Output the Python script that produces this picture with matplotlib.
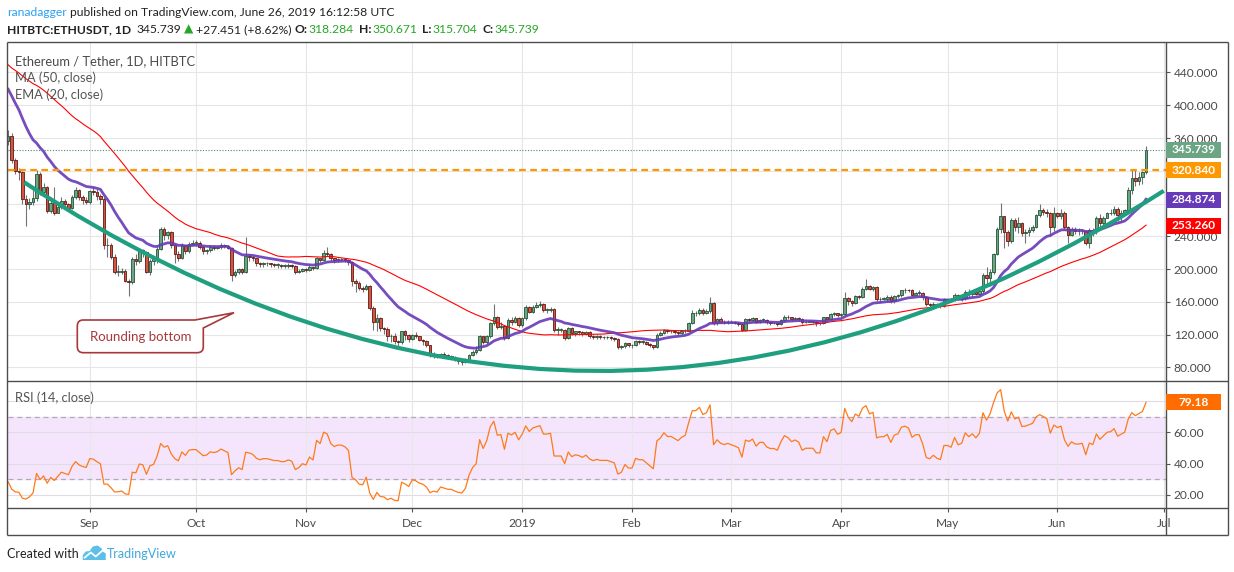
import numpy as np
import pandas as pd
import matplotlib
matplotlib.use('Agg')
import matplotlib.pyplot as plt
from matplotlib.path import Path
from matplotlib.patches import PathPatch, Rectangle, Polygon

plt.rcParams['font.family'] = ['Lato', 'DejaVu Sans']

# daily closes before the first visible candle (2018-06-01 .. 2018-08-08), only used to warm up MA/EMA/RSI
pre_close = [580, 591, 619, 592, 608, 607, 605, 601, 597, 526, 532, 497, 476, 519, 488, 498, 500, 518, 537, 537,
             525, 464, 474, 456, 457, 431, 441, 420, 435, 455,
             453, 475, 464, 467, 467, 474, 492, 489, 473, 433, 448, 431, 433, 436, 449, 478, 500, 479, 470, 448,
             461, 457, 460, 479, 471, 464, 470, 467, 466, 457, 433,
             420, 408, 415, 408, 408, 405, 377, 356]

# visible candles, 2018-08-09 .. 2019-06-26 (open = previous close)
aug_c = [363, 333, 320, 318, 285, 279, 282, 287, 316, 294, 300, 271, 281, 269, 276, 283, 279, 275, 288, 296, 288, 284, 282]
aug_h = [370, 366, 336, 324, 320, 290, 287, 296, 321, 318, 305, 301, 285, 300, 280, 288, 286, 281, 290, 300, 298, 290, 288]
aug_l = [352, 330, 316, 309, 280, 253, 273, 278, 283, 290, 289, 268, 268, 266, 268, 273, 275, 272, 274, 285, 284, 280, 280]

sep_c = [295, 294, 289, 285, 229, 229, 215, 197, 197, 198, 186, 184, 212, 210, 223, 221, 197, 210, 212, 225,
         249, 242, 245, 229, 219, 214, 229, 222, 231, 232]
sep_h = [297, 300, 298, 292, 288, 238, 232, 218, 205, 202, 200, 188, 215, 218, 225, 225, 222, 212, 215, 227,
         252, 252, 247, 246, 230, 222, 232, 230, 233, 236]
sep_l = [280, 290, 284, 280, 225, 215, 212, 194, 192, 194, 184, 167, 182, 205, 208, 215, 195, 193, 205, 208,
         223, 236, 237, 226, 207, 210, 212, 218, 220, 229]

oct_c = [232, 227, 222, 223, 227, 226, 227, 230, 228, 226, 193, 197, 200, 197, 216, 215, 213, 208, 206, 207,
         207, 206, 205, 205, 204, 204, 205, 204, 197, 198, 200]
oct_h = [235, 234, 229, 225, 229, 229, 228, 232, 231, 229, 227, 199, 201, 201, 239, 219, 216, 214, 209, 209,
         209, 208, 207, 207, 206, 206, 207, 206, 205, 200, 202]
oct_l = [228, 224, 219, 219, 221, 223, 224, 225, 226, 224, 186, 191, 194, 194, 195, 210, 210, 204, 203, 203,
         204, 203, 203, 202, 201, 202, 202, 202, 194, 195, 196]

nov_c = [199, 203, 201, 213, 211, 220, 219, 213, 211, 212, 212, 211, 209, 186, 183, 177, 176, 180, 153, 135,
         140, 128, 127, 118, 119, 112, 111, 124, 120, 115]
nov_h = [202, 205, 203, 215, 214, 223, 227, 220, 214, 214, 214, 213, 212, 210, 188, 186, 180, 182, 181, 155,
         145, 142, 130, 129, 121, 122, 114, 125, 126, 121]
nov_l = [197, 198, 199, 200, 209, 210, 216, 210, 208, 209, 210, 209, 205, 180, 172, 175, 172, 174, 150, 126,
         124, 125, 121, 112, 111, 109, 103, 109, 114, 111]

dec_c = [120, 118, 114, 112, 107, 95, 96, 94, 97, 95, 93, 93, 90, 88, 87, 89, 95, 99, 101, 118,
         111, 118, 134, 142, 130, 131, 116, 138, 136, 140, 132]
dec_h = [121, 123, 119, 115, 113, 108, 99, 97, 98, 99, 96, 95, 94, 91, 89, 91, 97, 101, 106, 120,
         119, 120, 136, 158, 143, 135, 132, 140, 141, 143, 141]
dec_l = [113, 116, 112, 108, 105, 93, 91, 92, 93, 93, 91, 90, 88, 84, 83, 86, 88, 94, 97, 100,
         109, 109, 116, 132, 127, 127, 114, 115, 132, 134, 130]

jan_c = [140, 154, 148, 154, 156, 158, 150, 150, 151, 126, 126, 126, 116, 128, 122, 124, 123, 121, 123, 119,
         117, 118, 117, 117, 117, 116, 115, 105, 106, 110, 107]
jan_h = [142, 156, 155, 156, 160, 161, 159, 153, 154, 153, 129, 128, 127, 129, 129, 125, 125, 124, 125, 124,
         120, 120, 120, 119, 119, 118, 117, 116, 108, 111, 110]
jan_l = [130, 138, 146, 146, 152, 154, 148, 147, 148, 123, 120, 123, 114, 115, 120, 119, 120, 119, 120, 116,
         115, 115, 115, 115, 115, 114, 112, 103, 103, 104, 105]

feb_c = [107, 112, 111, 111, 109, 107, 105, 120, 122, 126, 124, 124, 123, 122, 124, 125, 134, 146, 146, 150,
         147, 149, 159, 134, 139, 136, 135, 136]
feb_h = [109, 114, 113, 113, 112, 110, 108, 122, 125, 127, 127, 126, 126, 124, 126, 127, 136, 150, 149, 152,
         152, 151, 166, 160, 140, 141, 138, 138]
feb_l = [104, 106, 109, 109, 107, 105, 103, 104, 118, 121, 122, 122, 121, 120, 121, 122, 124, 133, 143, 144,
         144, 145, 147, 132, 132, 134, 133, 133]

mar_c = [135, 134, 133, 126, 139, 138, 140, 135, 138, 138, 135, 134, 134, 133, 138, 142, 141, 139, 140, 139,
         135, 136, 136, 136, 134, 134, 141, 139, 145, 146, 144]
mar_h = [138, 137, 136, 134, 140, 140, 142, 140, 139, 140, 139, 136, 136, 135, 139, 144, 144, 142, 141, 142,
         140, 137, 138, 138, 137, 136, 142, 141, 146, 148, 146]
mar_l = [134, 133, 131, 125, 125, 136, 137, 134, 134, 136, 133, 132, 133, 131, 132, 137, 139, 137, 138, 137,
         133, 134, 135, 134, 131, 132, 133, 138, 138, 143, 141]

apr_c = [145, 165, 161, 159, 167, 166, 176, 180, 176, 178, 163, 164, 164, 166, 161, 167, 168, 174, 175, 174,
         169, 171, 171, 166, 157, 156, 158, 156, 155, 163]
apr_h = [147, 172, 166, 162, 169, 168, 178, 188, 181, 180, 179, 166, 166, 168, 168, 169, 170, 175, 177, 176,
         176, 172, 174, 172, 167, 159, 160, 159, 158, 165]
apr_l = [142, 143, 156, 155, 158, 163, 165, 175, 174, 173, 161, 160, 162, 161, 159, 159, 165, 166, 171, 172,
         168, 168, 168, 162, 155, 153, 154, 154, 152, 154]

may_c = [163, 162, 168, 164, 165, 172, 170, 172, 170, 173, 193, 189, 197, 218, 249, 265, 245, 234, 260, 251,
         256, 244, 245, 248, 251, 266, 272, 270, 268, 252, 268]
may_h = [164, 165, 171, 170, 167, 175, 176, 173, 175, 176, 195, 203, 200, 220, 251, 281, 265, 248, 263, 263,
         264, 258, 249, 252, 254, 267, 280, 275, 273, 270, 276]
may_l = [160, 160, 161, 162, 161, 162, 166, 166, 168, 168, 171, 179, 180, 194, 217, 244, 226, 228, 232, 246,
         244, 240, 232, 240, 245, 250, 264, 266, 264, 240, 246]

jun_c = [265, 268, 251, 242, 249, 246, 246, 247, 232, 248, 246, 263, 256, 262, 268, 269, 274, 266, 269, 272,
         296, 311, 308, 313, 318.284, 345.739]
jun_h = [270, 273, 271, 253, 252, 252, 250, 249, 248, 250, 250, 265, 267, 265, 270, 273, 277, 276, 272, 274,
         300, 321, 321, 318, 320, 350.671]
jun_l = [262, 261, 249, 232, 240, 243, 242, 243, 230, 226, 241, 243, 252, 254, 262, 266, 266, 259, 258, 266,
         269, 292, 301, 303, 304, 315.704]

price_ticks = [80, 120, 160, 200, 240, 280, 320, 360, 400, 440]
rsi_ticks = [20, 40, 60, 80]
month_labels = ['Sep', 'Oct', 'Nov', 'Dec', '2019', 'Feb', 'Mar', 'Apr', 'May', 'Jun', 'Jul']
level_line = 320.840
last_close = 345.739
ema_last = 284.874
ma_last = 253.260
rsi_last = 79.18

W, H = 1234, 572

close = np.array(aug_c + sep_c + oct_c + nov_c + dec_c + jan_c + feb_c + mar_c + apr_c + may_c + jun_c, dtype=float)
high = np.array(aug_h + sep_h + oct_h + nov_h + dec_h + jan_h + feb_h + mar_h + apr_h + may_h + jun_h, dtype=float)
low = np.array(aug_l + sep_l + oct_l + nov_l + dec_l + jan_l + feb_l + mar_l + apr_l + may_l + jun_l, dtype=float)
opn = np.r_[pre_close[-1], close[:-1]]

origin = pd.Timestamp('2018-09-01')
dates = pd.date_range('2018-08-09', periods=len(close), freq='D')
day = np.array((dates - origin).days, dtype=float)
months = pd.date_range('2018-09-01', '2019-07-01', freq='MS')
month_day = np.array((months - origin).days, dtype=float)

full = pd.Series(pre_close + list(close))
n0 = len(pre_close)
ema20 = full.ewm(span=20, adjust=False).mean().values[n0:]
ma50 = full.rolling(50).mean().values[n0:]
delta = full.diff()
gain = delta.clip(lower=0).ewm(alpha=1 / 14, adjust=False).mean()
loss = (-delta.clip(upper=0)).ewm(alpha=1 / 14, adjust=False).mean()
rsi = (100 - 100 / (1 + gain / loss)).values[n0:]


def frac(l, t, r, b):
    return [l / W, 1 - b / H, (r - l) / W, (b - t) / H]


fig = plt.figure(figsize=(W / 100, H / 100), dpi=100)
ax = fig.add_axes(frac(7.5, 42, 1165.5, 381))
rx = fig.add_axes(frac(7.5, 381, 1165.5, 508), sharex=ax)
ov = fig.add_axes([0, 0, 1, 1])
ov.set_xlim(0, W)
ov.set_ylim(H, 0)
ov.axis('off')
ov.patch.set_alpha(0)

grid_c = '#e6e6e6'
axis_txt = '#4a4a4a'

# ---- price pane
ax.set_xlim(-23.2, 303.5)
ax.set_ylim(63.5, 477.2)
rx.set_ylim(11.7, 92.7)
for p in price_ticks:
    ax.axhline(p, color=grid_c, lw=0.8, zorder=0)
for m in month_day:
    ax.axvline(m, color=grid_c, lw=0.8, zorder=0)

up = close >= opn
body_lo = np.minimum(opn, close)
body_h = np.maximum(np.abs(close - opn), 0.8)
ax.vlines(day, low, high, color='#737375', lw=0.8, zorder=3)
ax.bar(day[up], body_h[up], bottom=body_lo[up], width=0.72, color='#6ba583',
       edgecolor='#225437', linewidth=0.6, zorder=4)
ax.bar(day[~up], body_h[~up], bottom=body_lo[~up], width=0.72, color='#d75442',
       edgecolor='#5b1a13', linewidth=0.6, zorder=4)

ax.plot(day, ma50, color='#ff0000', lw=0.8, zorder=5)
ax.plot(day, ema20, color='#673ab7', lw=2.0, alpha=0.9, zorder=5)
ax.axhline(level_line, color='#ff9800', lw=1.6, ls=(0, (3, 2)), zorder=6)
ax.axhline(last_close, color='#4f8a6a', lw=0.8, ls=(0, (1, 1.5)), zorder=6)

# rounding bottom drawing (quadratic curve: start, control, end)
curve = Path([(-18.5, 306), (141.7, -149.3), (303.0, 295.6)], [Path.MOVETO, Path.CURVE3, Path.CURVE3])
ax.add_patch(PathPatch(curve, fill=False, edgecolor='#1f9e80', lw=3.0, zorder=7, capstyle='butt'))


def ypix(axes, v):
    return H - axes.transData.transform((0, v))[1]


boxes = [(ax, last_close, '%.3f' % last_close, '#6ba583'),
         (ax, level_line, '%.3f' % level_line, '#ff9800'),
         (ax, ema_last, '%.3f' % ema_last, '#673ab7'),
         (ax, ma_last, '%.3f' % ma_last, '#ff0000'),
         (rx, rsi_last, '%.2f' % rsi_last, '#ff6d00')]


def hidden(axes, v):
    # scale labels that sit under a value box are not shown
    return any(a is axes and abs(ypix(axes, v) - ypix(a, bv)) < 9 for a, bv, _, _ in boxes)


ax.yaxis.tick_right()
ax.set_yticks(price_ticks)
ax.set_yticklabels(['' if hidden(ax, p) else '%.3f' % p for p in price_ticks])
ax.tick_params(axis='y', length=3, width=0.8, color='#555555', labelcolor=axis_txt, labelsize=8.6, pad=3)
ax.tick_params(axis='x', length=0, labelbottom=False)
for s in ax.spines.values():
    s.set_visible(False)

# ---- RSI pane
rx.axhspan(30, 70, color='#f4e5fc', zorder=0)
for v in rsi_ticks:
    rx.axhline(v, color='#e0dbe4', lw=0.8, zorder=1)
for m in month_day:
    rx.axvline(m, color=grid_c, lw=0.8, zorder=1)
rx.axhline(70, color='#b3aab8', lw=0.9, ls=(0, (4, 3)), zorder=2)
rx.axhline(30, color='#b3aab8', lw=0.9, ls=(0, (4, 3)), zorder=2)
rx.plot(day, rsi, color='#ff7a1a', lw=0.9, zorder=3)
rx.yaxis.tick_right()
rx.set_yticks(rsi_ticks)
rx.set_yticklabels(['' if hidden(rx, v) else '%.2f' % v for v in rsi_ticks])
rx.tick_params(axis='y', length=3, width=0.8, color='#555555', labelcolor=axis_txt, labelsize=8.6, pad=3)
rx.set_xticks(month_day)
rx.set_xticklabels(month_labels)
rx.tick_params(axis='x', length=3, width=0.8, color='#555555', labelcolor=axis_txt, labelsize=8.6, pad=4)
for s in rx.spines.values():
    s.set_visible(False)
rx.set_xlim(-23.2, 303.5)

# ---- value boxes on the price scale
for a, v, txt, col in boxes:
    yc = ypix(a, v)
    ov.add_patch(Rectangle((1166, yc - 8), 55, 16, facecolor=col, edgecolor='none', zorder=5))
    ov.text(1193.5, yc, txt, color='white', fontsize=8.6, fontweight='bold', ha='center', va='center', zorder=6)

# ---- frame lines
fc = '#4d4d4d'
for x0, y0, x1, y1 in [(7, 42, 1228, 42), (7, 42, 7, 535), (1228, 42, 1228, 535), (7, 535, 1228, 535),
                       (1165.5, 42, 1165.5, 535), (7, 381, 1228, 381), (7, 508, 1228, 508)]:
    ov.plot([x0, x1], [y0, y1], color=fc, lw=1.0, solid_capstyle='butt', zorder=4)

# ---- pane legends
ov.text(15, 61, 'Ethereum / Tether, 1D, HITBTC', color='#4a4a4a', fontsize=9.3, va='center', zorder=6)
ov.text(15, 78, 'MA (50, close)', color='#555555', fontsize=9.3, va='center', zorder=6)
ov.text(15, 95, 'EMA (20, close)', color='#555555', fontsize=9.3, va='center', zorder=6)
ov.text(15, 398, 'RSI (14, close)', color='#555555', fontsize=9.3, va='center', zorder=6)

# ---- callout
L, T, R, B, r = 77.3, 320.0, 203.3, 352.7, 6.0
verts = [(L + r, T), (195, T), (234, 312.7), (R, 328), (R, B - r), (R, B), (R - r, B),
         (L + r, B), (L, B), (L, B - r), (L, T + r), (L, T), (L + r, T), (L + r, T)]
codes = [Path.MOVETO, Path.LINETO, Path.LINETO, Path.LINETO, Path.LINETO, Path.CURVE3, Path.CURVE3,
         Path.LINETO, Path.CURVE3, Path.CURVE3, Path.LINETO, Path.CURVE3, Path.CURVE3, Path.CLOSEPOLY]
ov.add_patch(PathPatch(Path(verts, codes), facecolor='white', edgecolor='#a8383a', lw=1.2, zorder=7))
ov.text((L + R) / 2, (T + B) / 2 + 0.5, 'Rounding bottom', color='#a8383a', fontsize=9.5,
        ha='center', va='center', zorder=8)

# ---- header and footer
renderer = fig.canvas.get_renderer()


def chain(x, y, parts, size):
    for s, col, wt, gap in parts:
        t = ov.text(x, y, s, color=col, fontsize=size, fontweight=wt, ha='left', va='center', zorder=6)
        x += t.get_window_extent(renderer=renderer).width + gap
    return x


green = '#26a626'
chain(7, 12.5, [('ranadagger', '#2b9ff0', 'normal', 3.5),
                ('published on TradingView.com, June 26, 2019 16:12:58 UTC', '#222222', 'normal', 0)], 8.7)
chain(7, 29.5, [('HITBTC:ETHUSDT, 1D', '#222222', 'bold', 5),
                ('345.739', '#222222', 'normal', 3),
                ('\u25b2', green, 'normal', 3),
                ('+27.451 (+8.62%)', '#222222', 'normal', 3),
                ('O:', '#222222', 'bold', 1), ('318.284', green, 'normal', 5),
                ('H:', '#222222', 'bold', 1), ('350.671', green, 'normal', 5),
                ('L:', '#222222', 'bold', 1), ('315.704', green, 'normal', 5),
                ('C:', '#222222', 'bold', 1), ('345.739', green, 'normal', 0)], 8.7)

xe = chain(7, 554, [('Created with', '#222222', 'normal', 4)], 9.0)
cloud = [(xe, 560), (xe, 555), (xe + 3, 551.5), (xe + 7, 551), (xe + 10, 546.5), (xe + 15, 545.5),
         (xe + 19, 548.5), (xe + 20, 551.5), (xe + 23, 553.5), (xe + 23, 560)]
ov.add_patch(Polygon(cloud, closed=True, facecolor='#5bbfea', edgecolor='none', zorder=6))
ov.plot([xe + 2, xe + 8, xe + 13, xe + 21], [557.5, 552.5, 556.5, 549.5], color='white', lw=1.3, zorder=7)
chain(xe + 24, 554, [('TradingView', '#3fa7dd', 'normal', 0)], 9.0)

fig.savefig('out.png', dpi=100)
